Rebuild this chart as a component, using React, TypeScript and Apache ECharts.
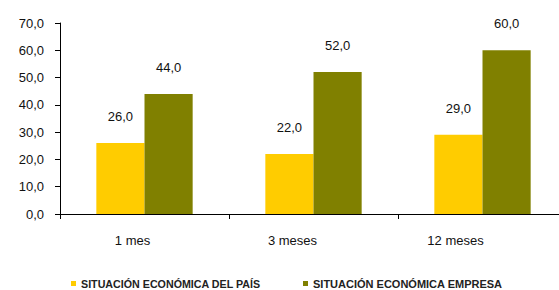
import React, { useEffect, useRef } from "react";
import * as echarts from "echarts";

const categories = ["1 mes", "3 meses", "12 meses"];
const seriesNames = ["SITUACIÓN ECONÓMICA DEL PAÍS", "SITUACIÓN ECONÓMICA EMPRESA"];
const paisValues = [26.0, 22.0, 29.0];
const empresaValues = [44.0, 52.0, 60.0];
const yTicks = { min: 0, max: 70, interval: 10 };

const fmt = (v: number) => v.toFixed(1).replace(".", ",");
const FONT = "Liberation Sans, Arial, sans-serif";

export default function App() {
  const ref = useRef<HTMLDivElement>(null);
  useEffect(() => {
    if (!ref.current) return;
    const chart = echarts.init(ref.current, null, { renderer: "svg" });
    const richKeys = ["a", "b", "c"];
    const legendText = { fontSize: 10.7, fontWeight: "bold", color: "#222", fontFamily: FONT, lineHeight: 11 };
    chart.setOption({
      animation: false,
      backgroundColor: "#ffffff",
      textStyle: { fontFamily: FONT },
      grid: {
        left: 60,
        top: 23,
        width: 507,
        height: 191,
        containLabel: false,
        outerBoundsMode: "none",
      },
      legend: [
        {
          data: [seriesNames[0]],
          left: 71,
          top: 278,
          padding: 0,
          icon: "rect",
          itemWidth: 5,
          itemHeight: 5,
          textStyle: legendText,
        },
        {
          data: [seriesNames[1]],
          left: 303,
          top: 278,
          padding: 0,
          icon: "rect",
          itemWidth: 5,
          itemHeight: 5,
          textStyle: { ...legendText, fontSize: 11 },
        },
      ],
      xAxis: {
        type: "category",
        data: categories,
        axisLine: { lineStyle: { color: "#000", width: 1 } },
        axisTick: { show: true, length: 5, inside: false, lineStyle: { color: "#000" } },
        axisLabel: {
          margin: 20,
          fontSize: 13,
          color: "#111",
          fontFamily: FONT,
          formatter: (v: string) => {
            const i = categories.indexOf(v);
            return "{" + richKeys[i] + "|" + v + "}";
          },
          rich: {
            a: { padding: [0, 24, 0, 0], fontSize: 13, color: "#111", fontFamily: FONT },
            b: { padding: [0, 42, 0, 0], fontSize: 13, color: "#111", fontFamily: FONT },
            c: { padding: [0, 54, 0, 0], fontSize: 13, color: "#111", fontFamily: FONT },
          },
        },
      },
      yAxis: {
        type: "value",
        min: yTicks.min,
        max: yTicks.max,
        interval: yTicks.interval,
        axisLine: { show: true, lineStyle: { color: "#000", width: 1 } },
        axisTick: { show: true, length: 5, inside: false, lineStyle: { color: "#000" } },
        splitLine: { show: false },
        axisLabel: {
          margin: 16,
          fontSize: 13,
          color: "#111",
          fontFamily: FONT,
          formatter: (v: number) => fmt(v),
        },
      },
      series: [
        {
          name: seriesNames[0],
          type: "bar",
          data: paisValues,
          barGap: "0%",
          barCategoryGap: "43%",
          itemStyle: { color: "#FFCC00" },
          label: {
            show: true,
            position: "top",
            distance: 20,
            fontSize: 13,
            color: "#111",
            fontFamily: FONT,
            formatter: (p: any) => fmt(p.value),
          },
        },
        {
          name: seriesNames[1],
          type: "bar",
          data: empresaValues,
          barGap: "0%",
          barCategoryGap: "43%",
          itemStyle: { color: "#808000" },
          label: {
            show: true,
            position: "top",
            distance: 20,
            fontSize: 13,
            color: "#111",
            fontFamily: FONT,
            formatter: (p: any) => fmt(p.value),
          },
        },
      ],
    });
    return () => chart.dispose();
  }, []);
  return (
    <div
      ref={ref}
      style={{ position: "fixed", left: 0, top: 0, width: 559, height: 290, background: "#fff" }}
    />
  );
}
